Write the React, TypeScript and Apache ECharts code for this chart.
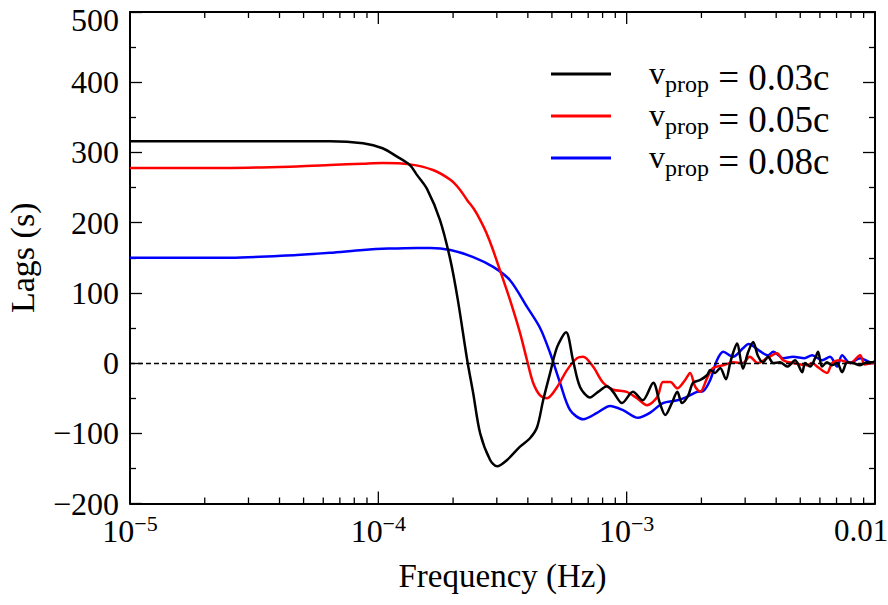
import { useEffect, useRef } from "react";
import * as echarts from "echarts";

const FONT = "Liberation Serif";

// Frequency (Hz) and lag (s) samples for each propagation speed
const freq003 = [1.0e-5, 2.53e-5, 4.7e-5, 6.39e-5, 8.68e-5, 1.04e-4, 1.19e-4, 1.34e-4, 1.43e-4, 1.57e-4, 1.77e-4, 1.95e-4, 2.09e-4, 2.28e-4, 2.41e-4, 2.57e-4, 2.82e-4, 3.01e-4, 3.3e-4, 3.72e-4, 4.08e-4, 4.36e-4, 4.61e-4, 4.91e-4, 5.25e-4, 5.7e-4, 6.08e-4, 6.49e-4, 7.12e-4, 7.67e-4, 8.34e-4, 8.82e-4, 9.58e-4, 1.06e-3, 1.16e-3, 1.28e-3, 1.36e-3, 1.43e-3, 1.52e-3, 1.6e-3, 1.67e-3, 1.77e-3, 1.85e-3, 1.98e-3, 2.11e-3, 2.17e-3, 2.27e-3, 2.38e-3, 2.51e-3, 2.61e-3, 2.68e-3, 2.78e-3, 2.94e-3, 3.08e-3, 3.23e-3, 3.38e-3, 3.54e-3, 3.71e-3, 3.89e-3, 4.15e-3, 4.43e-3, 4.77e-3, 5.09e-3, 5.23e-3, 5.48e-3, 5.74e-3, 5.9e-3, 6.12e-3, 6.41e-3, 6.72e-3, 7.04e-3, 7.37e-3, 7.73e-3, 8.16e-3, 8.71e-3, 9.29e-3, 9.82e-3, 1.0e-2];
const lag003 = [316, 316, 316, 316, 313, 306, 294, 282, 268, 248, 204, 147, 90, 4, -43, -100, -138, -147, -138, -119, -107, -91, -53, -15, 23, 44, 4, -34, -49, -41, -33, -41, -57, -41, -53, -28, -57, -74, -57, -41, -57, -46, -28, -24, -17, -10, -14, -7, -23, 0, 14, 28, -8, 15, 30, 10, 1, 9, 0, 1, -5, 4, -13, 0, -5, 7, 16, -5, 1, -3, 0, -13, 1, 0, -3, 1, 1, 3];

const freq005 = [1.0e-5, 2.53e-5, 4.7e-5, 6.39e-5, 8.68e-5, 1.04e-4, 1.34e-4, 1.66e-4, 1.95e-4, 2.12e-4, 2.28e-4, 2.43e-4, 2.57e-4, 2.72e-4, 2.87e-4, 3.09e-4, 3.39e-4, 3.72e-4, 3.97e-4, 4.2e-4, 4.48e-4, 4.78e-4, 5.25e-4, 5.75e-4, 6.31e-4, 6.68e-4, 7.32e-4, 8.04e-4, 8.82e-4, 1.0e-3, 1.1e-3, 1.21e-3, 1.33e-3, 1.4e-3, 1.5e-3, 1.6e-3, 1.72e-3, 1.8e-3, 1.89e-3, 1.98e-3, 2.11e-3, 2.23e-3, 2.45e-3, 2.68e-3, 2.94e-3, 3.13e-3, 3.38e-3, 3.68e-3, 4.03e-3, 4.27e-3, 4.68e-3, 5.33e-3, 5.58e-3, 5.85e-3, 6.41e-3, 6.72e-3, 7.24e-3, 7.94e-3, 8.71e-3, 9.1e-3, 9.82e-3, 1.0e-2];
const lag005 = [278, 278, 280, 282, 284, 285, 283, 275, 261, 248, 232, 219, 204, 186, 165, 132, 90, 43, 4, -28, -46, -50, -34, -10, 7, 9, -5, -28, -38, -41, -50, -60, -48, -27, -27, -36, -24, -14, -34, -41, -21, -7, -3, 1, 0, 9, 0, 7, 14, 4, 0, -3, 0, -5, -14, 0, 4, 0, 11, -2, 0, 0];

const freq008 = [1.0e-5, 2.53e-5, 4.7e-5, 6.39e-5, 8.68e-5, 1.1e-4, 1.43e-4, 1.62e-4, 1.95e-4, 2.41e-4, 2.9e-4, 3.39e-4, 3.97e-4, 4.48e-4, 4.91e-4, 5.39e-4, 5.92e-4, 6.68e-4, 7.6e-4, 8.57e-4, 9.67e-4, 1.11e-3, 1.24e-3, 1.4e-3, 1.6e-3, 1.75e-3, 1.92e-3, 2.03e-3, 2.17e-3, 2.31e-3, 2.45e-3, 2.68e-3, 2.94e-3, 3.1e-3, 3.44e-3, 3.71e-3, 3.89e-3, 4.27e-3, 4.68e-3, 5.2e-3, 5.58e-3, 6.12e-3, 6.59e-3, 7.04e-3, 7.37e-3, 7.94e-3, 8.71e-3, 9.82e-3, 1.0e-2];
const lag008 = [150, 150, 154, 157, 161, 163, 164, 164, 161, 151, 137, 118, 80, 50, 15, -28, -67, -80, -71, -61, -67, -78, -71, -57, -53, -48, -41, -40, -24, 4, 16, 9, 21, 27, 17, 11, 16, 7, 9, 7, 11, 4, 9, -5, 11, 0, 7, 0, 0];

const speeds = ["0.03c", "0.05c", "0.08c"];
const colors = ["#000000", "#ff0000", "#0000ff"];

// Axis ranges and tick positions
const X_MIN = 1e-5;
const X_MAX = 1e-2;
const Y_MIN = -200;
const Y_MAX = 500;
const majorXTicks = [1e-5, 1e-4, 1e-3, 1e-2];
const minorXTicks = [
  2e-5, 3e-5, 4e-5, 5e-5, 6e-5, 7e-5, 8e-5, 9e-5,
  2e-4, 3e-4, 4e-4, 5e-4, 6e-4, 7e-4, 8e-4, 9e-4,
  2e-3, 3e-3, 4e-3, 5e-3, 6e-3, 7e-3, 8e-3, 9e-3,
];

const zip = (xs: number[], ys: number[]) => xs.map((x, i) => [x, ys[i]]);

export default function App() {
  const ref = useRef<HTMLDivElement>(null);

  useEffect(() => {
    if (!ref.current) return;
    const chart = echarts.init(ref.current, undefined, { renderer: "svg" });

    const names = speeds.map((s) => `v_prop = ${s}`);
    const seriesData = [zip(freq003, lag003), zip(freq005, lag005), zip(freq008, lag008)];

    const tickData = [
      ...majorXTicks.map((f) => [f, 12]),
      ...minorXTicks.map((f) => [f, 6]),
    ];

    const tickStyle = { color: "#000", width: 1.3 };
    const axisLineStyle = { color: "#000", width: 2 };

    // draw order: blue under red under black
    const lineSeries = [2, 1, 0].map((i) => ({
      type: "line",
      name: names[i],
      data: seriesData[i],
      showSymbol: false,
      symbol: "none",
      smooth: 0.3,
      lineStyle: { color: colors[i], width: 2.5 },
      itemStyle: { color: colors[i] },
      z: 3 + (2 - i),
      ...(i === 2
        ? {
            markLine: {
              silent: true,
              symbol: ["none", "none"],
              label: { show: false },
              lineStyle: { color: "#000", type: [5, 3], width: 1.3 },
              data: [{ yAxis: 0 }],
            },
          }
        : {}),
    }));

    chart.setOption({
      animation: false,
      backgroundColor: "#ffffff",
      grid: { left: 130, right: 13, top: 12, bottom: 101.5, containLabel: false, outerBoundsMode: "none" },
      legend: {
        data: names.map((n) => ({ name: n, icon: "rect" })),
        orient: "vertical",
        left: 551,
        top: 52,
        padding: 0,
        itemWidth: 60,
        itemHeight: 3,
        itemGap: -2,
        formatter: (name: string) => `{v|v}{s|prop}{t| = ${name.split("= ")[1]}}`,
        textStyle: {
          padding: [0, 0, 0, 33],
          rich: {
            v: { fontFamily: FONT, fontSize: 32, color: "#000", lineHeight: 42, padding: [0, 0, 3, 0] },
            s: { fontFamily: FONT, fontSize: 24, color: "#000", lineHeight: 42, padding: [20, 0, 0, 0] },
            t: { fontFamily: FONT, fontSize: 37, color: "#000", lineHeight: 42, padding: [6, 0, 0, 0] },
          },
        },
      },
      xAxis: [
        {
          type: "log",
          logBase: 10,
          min: X_MIN,
          max: X_MAX,
          name: "Frequency (Hz)",
          nameLocation: "middle",
          nameGap: 56,
          nameTextStyle: { fontFamily: FONT, fontSize: 33, color: "#000" },
          axisLine: { show: true, onZero: false, lineStyle: axisLineStyle },
          axisTick: { show: false },
          minorTick: { show: false },
          splitLine: { show: false },
          axisLabel: {
            margin: 9,
            color: "#000",
            formatter: (v: number) => {
              const e = Math.round(Math.log10(v));
              if (e === -2) return "{last|0.01}";
              return `{b|10}{sup|\u2212${-e}}`;
            },
            rich: {
              b: { fontFamily: FONT, fontSize: 32, color: "#000", lineHeight: 36 },
              sup: { fontFamily: FONT, fontSize: 22, color: "#000", lineHeight: 36, padding: [0, 0, 14, 0] },
              last: { fontFamily: FONT, fontSize: 31, color: "#000", lineHeight: 36, padding: [0, 28, 0, 0] },
            },
          },
        },
        {
          type: "log",
          logBase: 10,
          position: "top",
          min: X_MIN,
          max: X_MAX,
          axisLine: { show: true, onZero: false, lineStyle: axisLineStyle },
          axisTick: { show: false },
          axisLabel: { show: false },
          splitLine: { show: false },
        },
      ],
      yAxis: [
        {
          type: "value",
          min: Y_MIN,
          max: Y_MAX,
          interval: 100,
          name: "Lags (s)",
          nameLocation: "middle",
          nameGap: 91,
          nameTextStyle: { fontFamily: FONT, fontSize: 34, color: "#000" },
          axisLine: { show: true, onZero: false, lineStyle: axisLineStyle },
          axisTick: { show: true, inside: true, length: 12, lineStyle: tickStyle },
          minorTick: { show: true, splitNumber: 2, length: 6, lineStyle: tickStyle },
          splitLine: { show: false },
          axisLabel: {
            margin: 11,
            color: "#000",
            fontFamily: FONT,
            fontSize: 32,
            formatter: (v: number) => {
              if (v === Y_MAX) return `{top|${v}}`;
              return v < 0 ? `\u2212${Math.abs(v)}` : String(v);
            },
            rich: {
              top: { fontFamily: FONT, fontSize: 32, color: "#000", padding: [16, 0, 0, 0] },
            },
          },
        },
        {
          type: "value",
          position: "right",
          min: Y_MIN,
          max: Y_MAX,
          interval: 100,
          axisLine: { show: true, onZero: false, lineStyle: axisLineStyle },
          axisTick: { show: true, inside: true, length: 12, lineStyle: tickStyle },
          minorTick: { show: true, splitNumber: 2, length: 6, lineStyle: tickStyle },
          splitLine: { show: false },
          axisLabel: { show: false },
        },
      ],
      series: [
        ...lineSeries,
        {
          // log-axis ticks on the bottom and top frame edges
          type: "custom",
          silent: true,
          clip: false,
          z: 10,
          data: tickData,
          renderItem: (_params: any, api: any) => {
            const f = api.value(0);
            const len = api.value(1);
            const b = api.coord([f, Y_MIN]);
            const t = api.coord([f, Y_MAX]);
            return {
              type: "group",
              children: [
                { type: "line", shape: { x1: b[0], y1: b[1], x2: b[0], y2: b[1] - len }, style: { stroke: "#000", lineWidth: 1.3 } },
                { type: "line", shape: { x1: t[0], y1: t[1], x2: t[0], y2: t[1] + len }, style: { stroke: "#000", lineWidth: 1.3 } },
              ],
            };
          },
        },
      ],
    });

    return () => chart.dispose();
  }, []);

  return (
    <div
      ref={ref}
      style={{ position: "fixed", left: 0, top: 0, width: 888, height: 605, background: "#fff" }}
    />
  );
}
